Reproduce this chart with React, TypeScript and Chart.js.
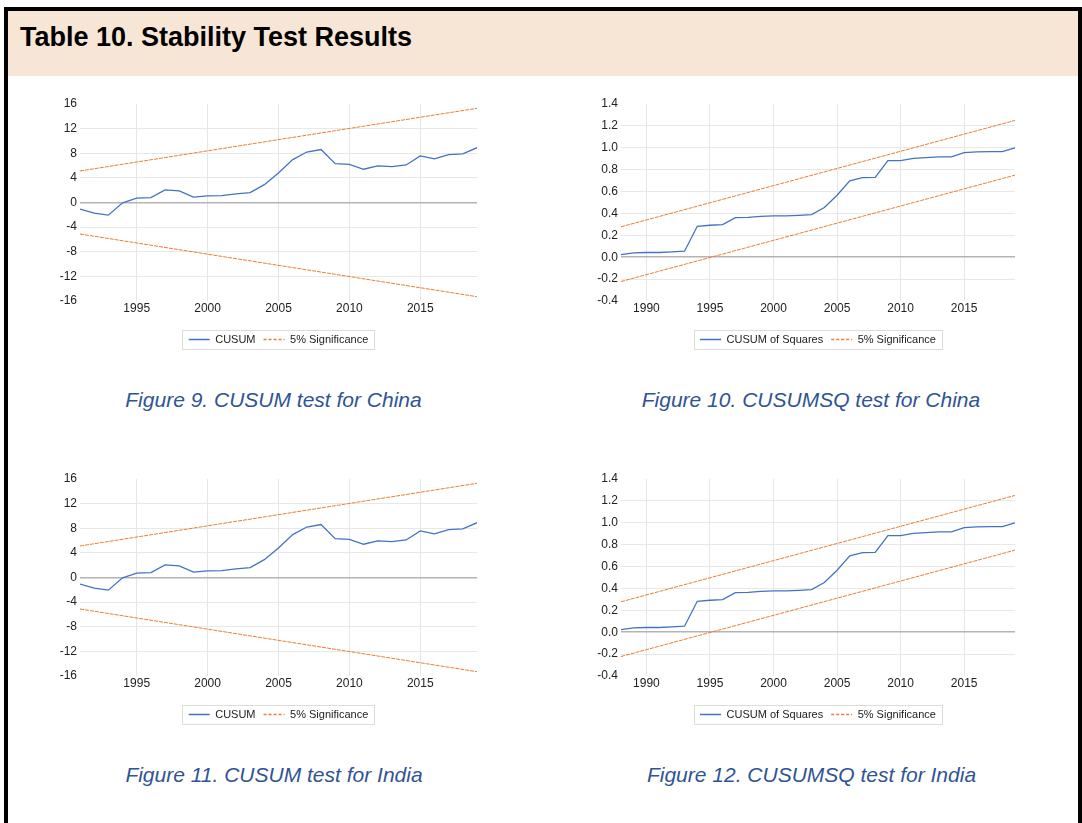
import React, { useEffect, useRef } from "react";
import { Chart, registerables } from "chart.js";

Chart.register(...registerables);

// ---------- Data ----------
const cusumYears = [1991, 1992, 1993, 1994, 1995, 1996, 1997, 1998, 1999, 2000, 2001, 2002, 2003, 2004, 2005, 2006, 2007, 2008, 2009, 2010, 2011, 2012, 2013, 2014, 2015, 2016, 2017, 2018, 2019];
const chinaCusum = [-1.08, -1.73, -2.05, -0.05, 0.7, 0.8, 2.05, 1.9, 0.86, 1.08, 1.13, 1.4, 1.62, 2.9, 4.8, 6.97, 8.2, 8.6, 6.3, 6.2, 5.4, 5.95, 5.84, 6.1, 7.57, 7.08, 7.78, 7.9, 8.9];
const indiaCusum = [-1.08, -1.73, -2.05, -0.05, 0.7, 0.8, 2.05, 1.9, 0.86, 1.08, 1.13, 1.4, 1.62, 2.9, 4.8, 6.97, 8.2, 8.6, 6.3, 6.2, 5.4, 5.95, 5.84, 6.1, 7.57, 7.08, 7.78, 7.9, 8.9];
const cusumBoundYears = [1991, 2019];
const cusumUpper = [5.12, 15.3];
const cusumLower = [-5.12, -15.3];
const cusumXTicks = [1995, 2000, 2005, 2010, 2015];
const cusumYMin = -16;
const cusumYMax = 16;
const cusumYStep = 4;

const cusumsqYears = [1988, 1989, 1990, 1991, 1992, 1993, 1994, 1995, 1996, 1997, 1998, 1999, 2000, 2001, 2002, 2003, 2004, 2005, 2006, 2007, 2008, 2009, 2010, 2011, 2012, 2013, 2014, 2015, 2016, 2017, 2018, 2019];
const chinaCusumsq = [0.024, 0.04, 0.043, 0.043, 0.049, 0.055, 0.283, 0.292, 0.298, 0.362, 0.365, 0.374, 0.377, 0.377, 0.383, 0.39, 0.454, 0.566, 0.697, 0.727, 0.73, 0.883, 0.883, 0.904, 0.91, 0.916, 0.916, 0.956, 0.962, 0.965, 0.965, 1.0];
const indiaCusumsq = [0.024, 0.04, 0.043, 0.043, 0.049, 0.055, 0.283, 0.292, 0.298, 0.362, 0.365, 0.374, 0.377, 0.377, 0.383, 0.39, 0.454, 0.566, 0.697, 0.727, 0.73, 0.883, 0.883, 0.904, 0.91, 0.916, 0.916, 0.956, 0.962, 0.965, 0.965, 1.0];
const cusumsqBoundYears = [1988, 2019];
const cusumsqUpper = [0.278, 1.25];
const cusumsqLower = [-0.222, 0.75];
const cusumsqXTicks = [1990, 1995, 2000, 2005, 2010, 2015];
const cusumsqYMin = -0.4;
const cusumsqYMax = 1.4;
const cusumsqYStep = 0.2;

const BLUE = "#4472C4";
const ORANGE = "#ED7D31";
const FONT = '"Liberation Sans", Arial, Helvetica, sans-serif';

const legendFramePlugin = {
  id: "legendFrame",
  afterDraw(chart: any) {
    const lg = chart.legend;
    if (!lg || !lg.legendHitBoxes || !lg.legendHitBoxes.length) return;
    const hb = lg.legendHitBoxes;
    const l = Math.min(...hb.map((h: any) => h.left)) - 6.5;
    const r = Math.max(...hb.map((h: any) => h.left + h.width)) + 5.5;
    const t = Math.min(...hb.map((h: any) => h.top)) - 4;
    const b = Math.max(...hb.map((h: any) => h.top + h.height)) + 4;
    const ctx = chart.ctx;
    ctx.save();
    ctx.strokeStyle = "#dcdcdc";
    ctx.lineWidth = 1;
    ctx.setLineDash([]);
    ctx.strokeRect(Math.round(l) + 0.5, Math.round(t) + 0.5, Math.round(r - l), Math.round(b - t));
    ctx.restore();
  },
};

type PanelProps = {
  left: number;
  top: number;
  yAxisWidth: number;
  rightPad: number;
  years: number[];
  values: number[];
  seriesLabel: string;
  boundYears: number[];
  upper: number[];
  lower: number[];
  yMin: number;
  yMax: number;
  yStep: number;
  xTicks: number[];
  decimals: number;
};

const W = 460;
const H = 275;

function LinePanel(p: PanelProps) {
  const ref = useRef<HTMLCanvasElement>(null);
  useEffect(() => {
    const isZero = (v: number) => Math.abs(v) < 1e-9;
    const chart = new Chart(ref.current as HTMLCanvasElement, {
      type: "line",
      data: {
        datasets: [
          {
            label: p.seriesLabel,
            data: p.years.map((x, i) => ({ x, y: p.values[i] })),
            borderColor: BLUE,
            backgroundColor: BLUE,
            borderWidth: 1.3,
            pointRadius: 0,
            tension: 0,
            fill: false,
          },
          {
            label: "5% Significance",
            data: p.boundYears.map((x, i) => ({ x, y: p.upper[i] })),
            borderColor: ORANGE,
            backgroundColor: ORANGE,
            borderWidth: 1,
            borderDash: [4, 1],
            pointRadius: 0,
            fill: false,
          },
          {
            label: "5% Significance (lower)",
            data: p.boundYears.map((x, i) => ({ x, y: p.lower[i] })),
            borderColor: ORANGE,
            backgroundColor: ORANGE,
            borderWidth: 1,
            borderDash: [4, 1],
            pointRadius: 0,
            fill: false,
          },
        ],
      } as any,
      options: {
        animation: false,
        responsive: false,
        devicePixelRatio: 1,
        layout: { padding: { left: 0, right: p.rightPad, top: 14, bottom: 10 } },
        font: { family: FONT },
        scales: {
          x: {
            type: "linear",
            min: p.years[0],
            max: p.years[p.years.length - 1],
            afterBuildTicks: (s: any) => {
              s.ticks = p.xTicks.map((v) => ({ value: v }));
            },
            afterFit: (s: any) => {
              s.height = 25;
            },
            grid: { color: "#e6e6e6", drawTicks: false, lineWidth: 1 },
            border: { display: false },
            ticks: {
              padding: 0,
              color: "#222",
              font: { size: 12, family: FONT },
              maxRotation: 0,
              autoSkip: false,
              callback: (v: any) => String(v),
            },
          },
          y: {
            type: "linear",
            min: p.yMin,
            max: p.yMax,
            afterFit: (s: any) => {
              s.width = p.yAxisWidth;
            },
            grid: {
              drawTicks: false,
              color: (ctx: any) => {
                const v = ctx.tick ? ctx.tick.value : 1;
                if (isZero(v)) return "#b4b4b4";
                if (Math.abs(v - p.yMin) < 1e-9 || Math.abs(v - p.yMax) < 1e-9) return "rgba(0,0,0,0)";
                return "#e8e8e8";
              },
              lineWidth: (ctx: any) => (ctx.tick && isZero(ctx.tick.value) ? 1.5 : 1),
            },
            border: { display: false },
            ticks: {
              stepSize: p.yStep,
              padding: 3,
              color: "#222",
              font: { size: 12, family: FONT },
              callback: (v: any) => {
                const n = Math.abs(Number(v)) < 1e-9 ? 0 : Number(v);
                return p.decimals ? n.toFixed(p.decimals) : String(Math.round(n));
              },
            },
          },
        },
        plugins: {
          tooltip: { enabled: false },
          legend: {
            position: "bottom",
            fullSize: false,
            labels: {
              usePointStyle: true,
              pointStyle: "line",
              pointStyleWidth: 21,
              padding: 8,
              color: "#222",
              font: { size: 11, family: FONT },
              generateLabels: (chart: any) =>
                chart.data.datasets.slice(0, 2).map((ds: any, i: number) => ({
                  text: ds.label,
                  fillStyle: ds.borderColor,
                  strokeStyle: ds.borderColor,
                  lineWidth: 1.5,
                  lineDash: i === 1 ? [3, 2] : [],
                  pointStyle: "line",
                  hidden: false,
                  datasetIndex: i,
                  fontColor: "#222",
                })),
            },
          },
        },
      } as any,
      plugins: [legendFramePlugin],
    });
    return () => chart.destroy();
  }, []);
  return (
    <canvas
      ref={ref}
      width={W}
      height={H}
      style={{ position: "absolute", left: p.left, top: p.top, width: W, height: H }}
    />
  );
}

function Caption({ text, center, top }: { text: string; center: number; top: number }) {
  return (
    <div
      style={{
        position: "absolute",
        left: center - 260,
        top,
        width: 520,
        textAlign: "center",
        fontFamily: FONT,
        fontStyle: "italic",
        fontSize: 21,
        lineHeight: "21px",
        color: "#2F5496",
        whiteSpace: "nowrap",
      }}
    >
      {text}
    </div>
  );
}

export default function App() {
  const rowOffset = 375;
  return (
    <div
      style={{
        position: "absolute",
        left: 0,
        top: 0,
        width: 1082,
        height: 823,
        overflow: "hidden",
        background: "#ffffff",
        fontFamily: FONT,
      }}
    >
      <div
        style={{
          position: "absolute",
          left: 4,
          top: 7,
          width: 1078,
          height: 900,
          boxSizing: "border-box",
          border: "4px solid #000",
          borderBottom: "none",
        }}
      />
      <div style={{ position: "absolute", left: 8, top: 11, width: 1070, height: 65, background: "#F7E6D5" }} />
      <div
        style={{
          position: "absolute",
          left: 20,
          top: 24,
          fontFamily: FONT,
          fontWeight: "bold",
          fontSize: 27,
          lineHeight: "26px",
          color: "#000",
          whiteSpace: "nowrap",
        }}
      >
        Table 10. Stability Test Results
      </div>

      <LinePanel
        left={40}
        top={90}
        yAxisWidth={40}
        rightPad={23}
        years={cusumYears}
        values={chinaCusum}
        seriesLabel="CUSUM"
        boundYears={cusumBoundYears}
        upper={cusumUpper}
        lower={cusumLower}
        yMin={cusumYMin}
        yMax={cusumYMax}
        yStep={cusumYStep}
        xTicks={cusumXTicks}
        decimals={0}
      />
      <LinePanel
        left={580}
        top={90}
        yAxisWidth={41}
        rightPad={25}
        years={cusumsqYears}
        values={chinaCusumsq}
        seriesLabel="CUSUM of Squares"
        boundYears={cusumsqBoundYears}
        upper={cusumsqUpper}
        lower={cusumsqLower}
        yMin={cusumsqYMin}
        yMax={cusumsqYMax}
        yStep={cusumsqYStep}
        xTicks={cusumsqXTicks}
        decimals={1}
      />
      <LinePanel
        left={40}
        top={90 + rowOffset}
        yAxisWidth={40}
        rightPad={23}
        years={cusumYears}
        values={indiaCusum}
        seriesLabel="CUSUM"
        boundYears={cusumBoundYears}
        upper={cusumUpper}
        lower={cusumLower}
        yMin={cusumYMin}
        yMax={cusumYMax}
        yStep={cusumYStep}
        xTicks={cusumXTicks}
        decimals={0}
      />
      <LinePanel
        left={580}
        top={90 + rowOffset}
        yAxisWidth={41}
        rightPad={25}
        years={cusumsqYears}
        values={indiaCusumsq}
        seriesLabel="CUSUM of Squares"
        boundYears={cusumsqBoundYears}
        upper={cusumsqUpper}
        lower={cusumsqLower}
        yMin={cusumsqYMin}
        yMax={cusumsqYMax}
        yStep={cusumsqYStep}
        xTicks={cusumsqXTicks}
        decimals={1}
      />

      <Caption text="Figure 9. CUSUM test for China" center={273.5} top={389} />
      <Caption text="Figure 10. CUSUMSQ test for China" center={811} top={389} />
      <Caption text="Figure 11. CUSUM test for India" center={274} top={389 + rowOffset} />
      <Caption text="Figure 12. CUSUMSQ test for India" center={811.5} top={389 + rowOffset} />
    </div>
  );
}
